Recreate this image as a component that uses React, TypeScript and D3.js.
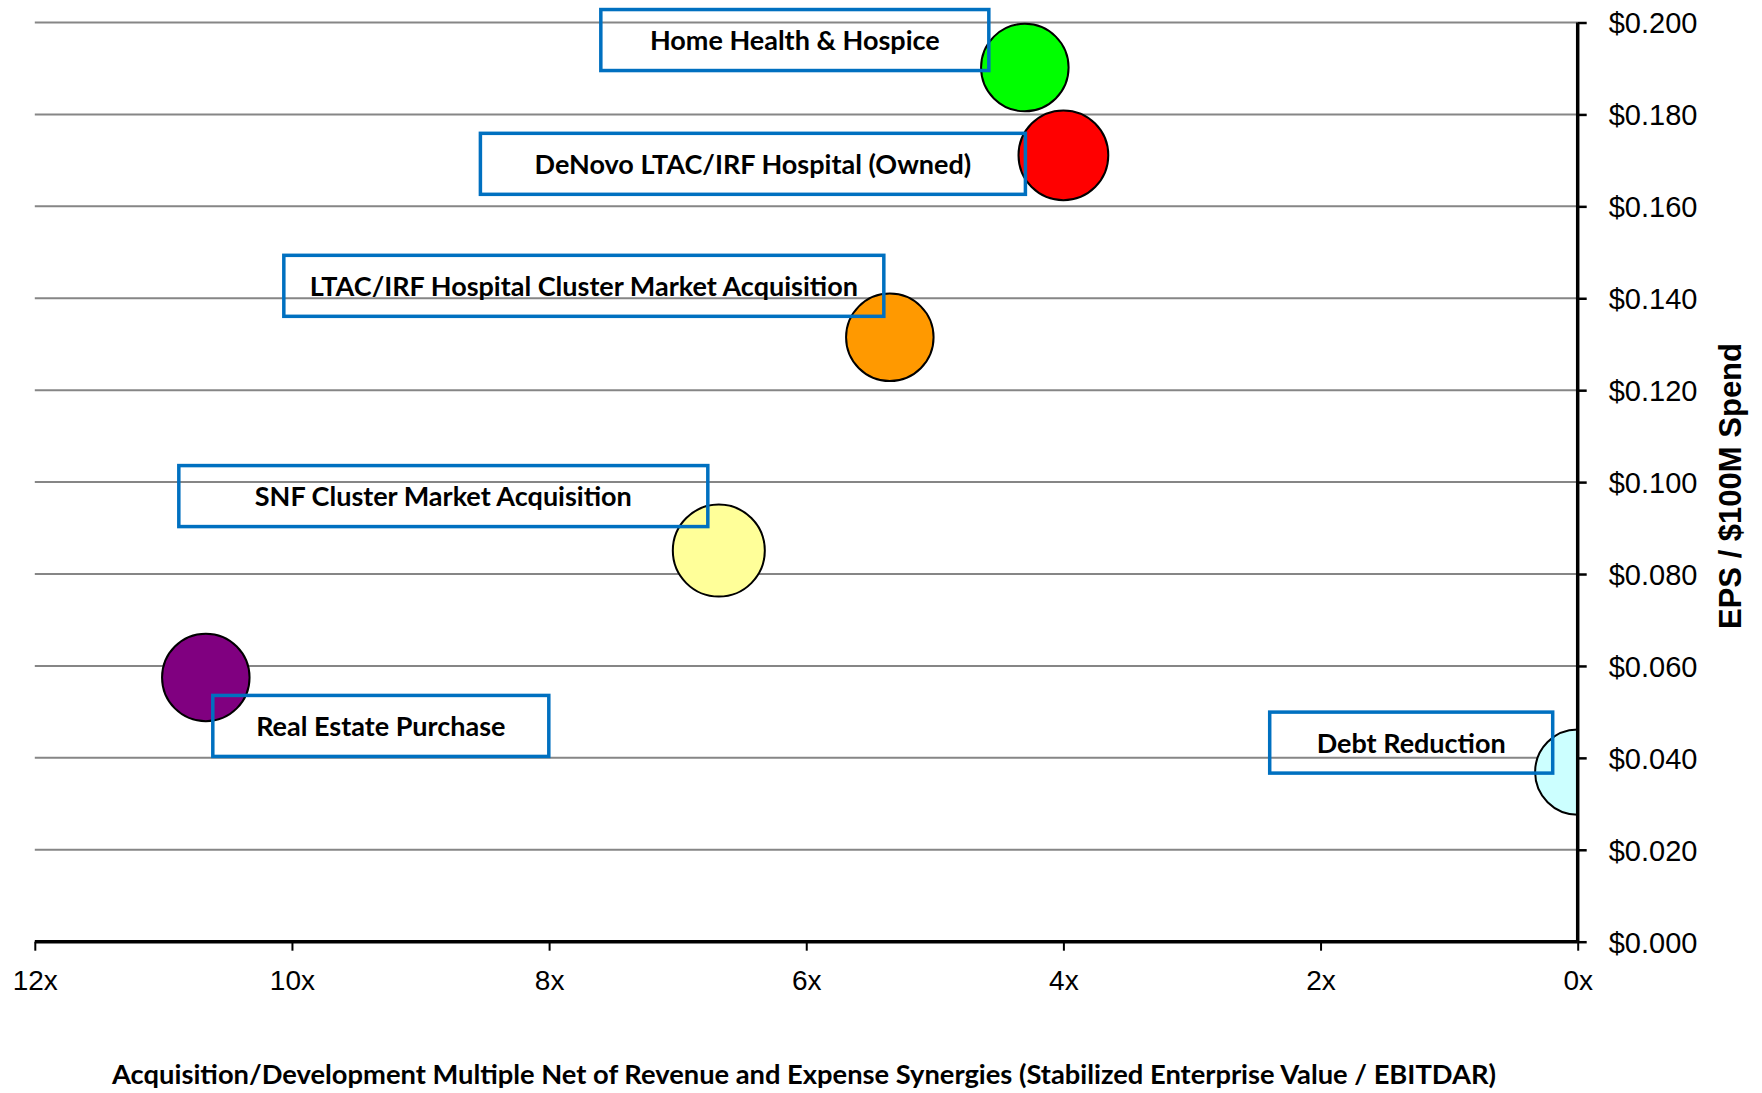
import React, { useRef, useEffect } from "react";
import * as d3 from "d3";

const chart_width = 1762;
const chart_height = 1093;

const categories: string[] = [
  "Home Health & Hospice",
  "DeNovo LTAC/IRF Hospital (Owned)",
  "LTAC/IRF Hospital Cluster Market Acquisition",
  "SNF Cluster Market Acquisition",
  "Real Estate Purchase",
  "Debt Reduction",
];
const multiples: number[] = [4.3, 4.0, 5.35, 6.68, 10.67, 0];
const epsPer100M: number[] = [0.1902, 0.1711, 0.1315, 0.0851, 0.0575, 0.0369];
const bubbleSizes: number[] = [19, 20, 19, 21, 19, 18];
const bubbleColors: string[] = ["#00FF00", "#FF0000", "#FF9900", "#FFFF99", "#800080", "#CCFFFF"];
const xTicks: number[] = [12, 10, 8, 6, 4, 2, 0];
const yTicks: number[] = [0, 0.02, 0.04, 0.06, 0.08, 0.1, 0.12, 0.14, 0.16, 0.18, 0.2];

// label box placement relative to bubble centre: [left, top, width]
const labelBoxes: [number, number, number][] = [
  [-424, -58, 388],
  [-583, -22, 545],
  [-606, -82, 600],
  [-540, -85, 529],
  [7, 18, 336],
  [-308, -60, 283],
];

const App: React.FC = () => {
  const d3Container = useRef<SVGSVGElement>(null);

  useEffect(() => {
    if (!d3Container.current) return;
    const svg = d3.select(d3Container.current);
    svg.selectAll("*").remove();

    const x_scale = d3.scaleLinear().domain([12, 0]).range([34.8, 1577.7]);
    const y_scale = d3.scaleLinear().domain([0, 0.2]).range([941.7, 22.5]);
    const r_scale = d3
      .scaleSqrt()
      .domain([0, d3.max(bubbleSizes) as number])
      .range([0, 46]);

    svg
      .append("defs")
      .append("clipPath")
      .attr("id", "plot-clip")
      .append("rect")
      .attr("x", 0)
      .attr("y", 0)
      .attr("width", x_scale(0))
      .attr("height", y_scale(0));

    // gridlines
    svg
      .append("g")
      .selectAll("line")
      .data(yTicks.filter((t) => t > 0))
      .enter()
      .append("line")
      .attr("x1", x_scale(12))
      .attr("x2", x_scale(0))
      .attr("y1", (d) => y_scale(d))
      .attr("y2", (d) => y_scale(d))
      .attr("stroke", "#868686")
      .attr("stroke-width", 2);

    // bubbles
    const idx = d3.range(categories.length);
    svg
      .append("g")
      .attr("clip-path", "url(#plot-clip)")
      .selectAll("circle")
      .data(idx)
      .enter()
      .append("circle")
      .attr("cx", (i) => x_scale(multiples[i]))
      .attr("cy", (i) => y_scale(epsPer100M[i]))
      .attr("r", (i) => r_scale(bubbleSizes[i]))
      .attr("fill", (i) => bubbleColors[i])
      .attr("stroke", "#000")
      .attr("stroke-width", 2);

    // axes
    const xAxis = d3
      .axisBottom(x_scale)
      .tickValues(xTicks)
      .tickSize(9)
      .tickFormat((d) => d + "x");
    const gx = svg
      .append("g")
      .attr("transform", "translate(0," + y_scale(0) + ")")
      .call(xAxis);
    gx.select(".domain").attr("stroke", "#000").attr("stroke-width", 3.5).attr("d", `M${x_scale(12)},0H${x_scale(0)}`);
    gx.selectAll(".tick line").attr("stroke", "#000").attr("stroke-width", 2);
    gx.selectAll(".tick text")
      .attr("y", 48)
      .attr("dy", 0)
      .attr("fill", "#000")
      .style("font-family", "'Liberation Sans', Arial, sans-serif")
      .style("font-size", "28px");

    const yAxis = d3
      .axisRight(y_scale)
      .tickValues(yTicks)
      .tickSize(9)
      .tickFormat((d) => "$" + d3.format(".3f")(d as number));
    const gy = svg
      .append("g")
      .attr("transform", "translate(" + x_scale(0) + ",0)")
      .call(yAxis);
    gy.select(".domain").attr("stroke", "#000").attr("stroke-width", 3.5).attr("d", `M0,${y_scale(0.2)}V${y_scale(0)}`);
    gy.selectAll(".tick line").attr("stroke", "#000").attr("stroke-width", 2.5);
    gy.selectAll(".tick text")
      .attr("x", 31)
      .attr("dy", "0.36em")
      .attr("fill", "#000")
      .style("font-family", "'Liberation Sans', Arial, sans-serif")
      .style("font-size", "29px");

    // label boxes
    const lg = svg.append("g");
    idx.forEach((i) => {
      const cx = x_scale(multiples[i]);
      const cy = y_scale(epsPer100M[i]);
      const [dx, dy, w] = labelBoxes[i];
      lg.append("rect")
        .attr("x", cx + dx)
        .attr("y", cy + dy)
        .attr("width", w)
        .attr("height", 61)
        .attr("fill", "none")
        .attr("stroke", "#0070C0")
        .attr("stroke-width", 3.5);
      lg.append("text")
        .attr("x", cx + dx + w / 2)
        .attr("y", cy + dy + 31)
        .attr("dy", "0.35em")
        .attr("text-anchor", "middle")
        .style("font-family", "Lato, 'Open Sans', sans-serif")
        .style("font-weight", "bold")
        .style("font-size", "27px")
        .text(categories[i]);
    });

    // axis titles
    svg
      .append("text")
      .attr("x", 804)
      .attr("y", 1084)
      .attr("text-anchor", "middle")
      .style("font-family", "Lato, 'Open Sans', sans-serif")
      .style("font-weight", "bold")
      .style("font-size", "27.3px")
      .text(
        "Acquisition/Development Multiple Net of Revenue and Expense Synergies (Stabilized Enterprise Value / EBITDAR)"
      );

    svg
      .append("text")
      .attr("transform", "translate(1741,486) rotate(-90)")
      .attr("text-anchor", "middle")
      .style("font-family", "'Liberation Sans', Arial, sans-serif")
      .style("font-weight", "bold")
      .style("font-size", "31px")
      .text("EPS / $100M Spend");
  }, []);

  return (
    <svg
      ref={d3Container}
      width={chart_width}
      height={chart_height}
      style={{ position: "absolute", left: 0, top: 0, background: "#fff" }}
    />
  );
};

export default App;
